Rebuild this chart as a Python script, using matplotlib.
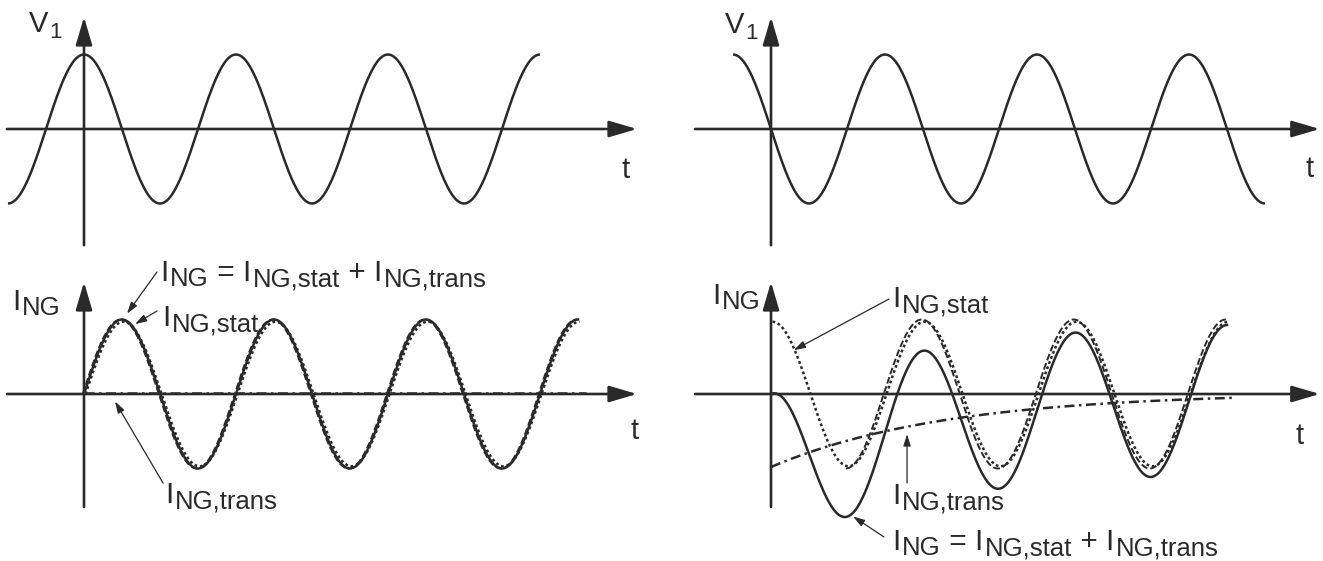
import numpy as np
import matplotlib.pyplot as plt

plt.rcParams['font.family'] = ['Liberation Sans', 'DejaVu Sans']

# time in periods of V1, amplitudes normalised to 1
# index 0: left case (switch-on at the voltage peak), index 1: right case (at the zero crossing)
v1_phase = [0.0, 0.25]                   # V1 = cos(2*pi*(t + phase))
v1_span = [(-0.5, 3.0), (-0.25, 3.25)]
stat_phase = [-0.25, 0.0]                # I_NG,stat = cos(2*pi*(t + phase))
i_span = [(0.0, 3.25), (0.0, 3.0)]
dashed_start = [0.0, 0.5]
tau_trans = 1.15                         # decay constant of I_NG,trans
trans_span = [(0.0, 3.3), (0.0, 3.05)]

ink = '#2a2a2a'
W, H = 1323, 561
px_t = 152.0    # pixels per period
px_a = 74.5     # pixels per unit amplitude

fig = plt.figure(figsize=(W / 100, H / 100), dpi=100)
fig.patch.set_facecolor('white')


def panel(box, origin):
    x0, y0, x1, y1 = box
    ox, oy = origin
    ax = fig.add_axes([x0 / W, 1 - y1 / H, (x1 - x0) / W, (y1 - y0) / H])
    ax.set_xlim((x0 - ox) / px_t, (x1 - ox) / px_t)
    ax.set_ylim((oy - y1) / px_a, (oy - y0) / px_a)
    ax.axis('off')
    return ax


def axis_arrows(ax, t_range, v_range):
    style = dict(arrowstyle='-|>,head_length=1.7,head_width=0.5', mutation_scale=10,
                 lw=1.9, color=ink, shrinkA=0, shrinkB=0)
    ax.annotate('', xy=(t_range[1], 0), xytext=(t_range[0], 0), arrowprops=style)
    ax.annotate('', xy=(0, v_range[1]), xytext=(0, v_range[0]), arrowprops=style)


def sub_label(ax, x, y, parts, size=21.5, sub_size=18.5, drop=3.8, gap=1.2):
    # text like I_NG,stat with a large, slightly lowered subscript
    prev = None
    for body, sub in parts:
        if prev is None:
            prev = ax.text(x, y, body, fontsize=size, color=ink)
        else:
            prev = ax.annotate(body, xy=(1, y), xycoords=(prev, 'data'),
                               xytext=(0, 0), textcoords='offset points',
                               fontsize=size, color=ink)
        prev = ax.annotate(sub, xy=(1, y), xycoords=(prev, 'data'),
                           xytext=(gap, -drop), textcoords='offset points',
                           fontsize=sub_size, color=ink)


def leader(ax, start, tip):
    ax.annotate('', xy=tip, xytext=start,
                arrowprops=dict(arrowstyle='-|>,head_length=0.7,head_width=0.22',
                                mutation_scale=10, lw=0.9, color=ink,
                                shrinkA=0, shrinkB=0))


def v1(t, k):
    return np.cos(2 * np.pi * (t + v1_phase[k]))


def i_stat(t, k):
    return np.cos(2 * np.pi * (t + stat_phase[k]))


def i_trans(t, k):
    return -i_stat(0.0, k) * np.exp(-t / tau_trans)


lw = 1.8
dotted = (0, (1.1, 1.1))
dashed = (0, (3.5, 1.5))
dashdot = (0, (4, 1.8, 1, 1.8))

boxes_top = [(0, 0, 661, 255), (661, 0, W, 255)]
boxes_bot = [(0, 255, 661, H), (661, 255, W, H)]
origins_top = [(84, 129), (771, 129)]
origins_bot = [(84, 394), (771, 394)]
t_axis = [(-0.507, 3.638), (-0.5, 3.61)]

for k in range(2):
    # --- V1 ---
    ax = panel(boxes_top[k], origins_top[k])
    axis_arrows(ax, t_axis[k], (-1.56, 1.503))
    t = np.linspace(*v1_span[k], 600)
    ax.plot(t, v1(t, k), color=ink, lw=lw, solid_capstyle='butt')

    # --- I_NG ---
    bx = panel(boxes_bot[k], origins_bot[k])
    axis_arrows(bx, t_axis[k], (-1.517, 1.503))
    t = np.linspace(*i_span[k], 600)
    ti = np.linspace(*trans_span[k], 600)
    td = np.linspace(dashed_start[k], i_span[k][1], 600)
    bx.plot(ti, i_trans(ti, k) + 0.02, color=ink, lw=lw, linestyle=dashdot)
    bx.plot(t + 0.01, 0.97 * i_stat(t, k), color=ink, lw=lw, linestyle=dotted)
    bx.plot(td - 0.008, i_stat(td, k), color=ink, lw=1.4, linestyle=dashed)
    bx.plot(t, i_stat(t, k) + i_trans(t, k), color=ink, lw=lw)

# axis labels
top_l, bot_l, top_r, bot_r = fig.axes
sub_label(top_l, -0.36, 1.30, [('V', '1')], size=21, sub_size=16, drop=4.5, gap=0.6)
sub_label(top_r, -0.305, 1.29, [('V', '1')], size=21, sub_size=16, drop=4.5, gap=0.6)
top_l.text(3.566, -0.658, 't', fontsize=21, color=ink, ha='center')
top_r.text(3.546, -0.644, 't', fontsize=21, color=ink, ha='center')
bot_l.text(3.62, -0.604, 't', fontsize=21, color=ink, ha='center')
bot_r.text(3.48, -0.671, 't', fontsize=21, color=ink, ha='center')
sub_label(bot_l, -0.474, 1.128, [('I', 'NG')])
sub_label(bot_r, -0.388, 1.208, [('I', 'NG')])

sum_parts = [('I', 'NG'), (' = I', 'NG,stat'), (' + I', 'NG,trans')]

# left case annotations
sub_label(bot_l, 0.5, 1.517, sum_parts)
sub_label(bot_l, 0.513, 0.913, [('I', 'NG,stat')])
sub_label(bot_l, 0.533, -1.463, [('I', 'NG,trans')])
t_a = 0.283
leader(bot_l, (0.48, 1.638), (t_a, i_stat(t_a, 0) + i_trans(t_a, 0) + 0.1))
t_a = 0.336
leader(bot_l, (0.48, 1.114), (t_a, i_stat(t_a, 0) + 0.08))
t_a = 0.204
leader(bot_l, (0.52, -1.195), (t_a, i_trans(t_a, 0) - 0.1))

# right case annotations
sub_label(bot_r, 0.796, 1.168, [('I', 'NG,stat')])
sub_label(bot_r, 0.796, -1.477, [('I', 'NG,trans')])
sub_label(bot_r, 0.796, -2.094, sum_parts)
t_a = 0.15
leader(bot_r, (0.776, 1.275), (t_a, i_stat(t_a, 1)))
t_a = 0.895
leader(bot_r, (t_a, -1.195), (t_a, i_trans(t_a, 1) - 0.08))
t_a = 0.54
leader(bot_r, (0.743, -1.919), (t_a, i_stat(t_a, 1) + i_trans(t_a, 1) - 0.05))

fig.savefig('out.png', dpi=100, facecolor='white')
